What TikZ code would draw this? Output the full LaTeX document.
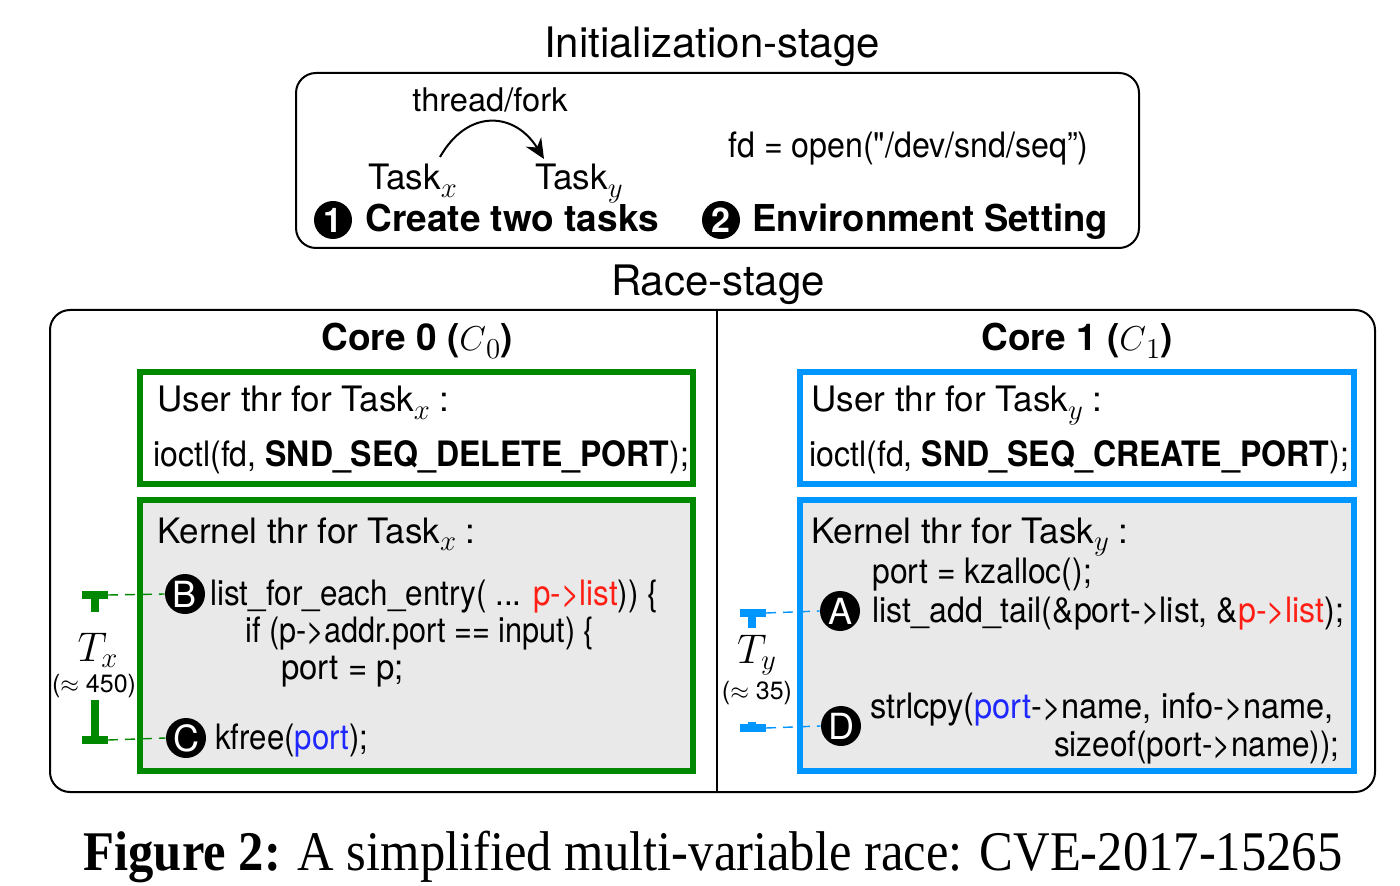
\documentclass[tikz,border=0pt]{standalone}
\usepackage{graphicx}
\usepackage{fontspec}
\setmainfont{TeX Gyre Heros}
\newfontfamily\capfont{Liberation Serif}
\usetikzlibrary{arrows.meta}
\definecolor{mygreen}{RGB}{0,136,0}
\definecolor{myblue}{RGB}{0,150,255}
\definecolor{myred}{RGB}{255,30,20}
\definecolor{mytxtblue}{RGB}{30,40,255}
\definecolor{kgray}{RGB}{233,233,233}
\newcommand{\hsq}[2]{\scalebox{#1}[1]{#2}}
\newcommand{\tsub}[1]{\raisebox{-0.4ex}{\fontsize{14}{14}\selectfont$#1$}}
\begin{document}
\begin{tikzpicture}[x=0.5pt,y=-0.5pt,
  txt/.style={inner sep=0pt, anchor=base west, font=\fontsize{17.5}{20}\selectfont},
  title/.style={inner sep=0pt, anchor=base, font=\fontsize{21}{24}\selectfont},
  hdr/.style={inner sep=0pt, anchor=base, font=\fontsize{18.5}{22}\selectfont\bfseries},
  stepttl/.style={inner sep=0pt, anchor=base west, font=\fontsize{18.5}{22}\selectfont\bfseries},
  frame/.style={draw=black, line width=1pt, rounded corners=10pt},
  gbox/.style={draw=mygreen, line width=3pt},
  bbox/.style={draw=myblue, line width=3pt},
  numcirc/.style={circle, fill=black, text=white, inner sep=0pt, minimum size=19pt, font=\fontsize{17}{17}\selectfont\bfseries},
  circ/.style={circle, fill=black, text=white, inner sep=0pt, minimum size=20pt, font=\fontsize{18}{18}\selectfont},
  gbar/.style={draw=mygreen, line width=4pt},
  bbar/.style={draw=myblue, line width=4pt},
  gdash/.style={draw=mygreen, line width=0.7pt, dash pattern=on 5pt off 3.5pt},
  bdash/.style={draw=myblue, line width=0.7pt, dash pattern=on 5pt off 3.5pt},
  tlabel/.style={inner sep=0pt, font=\fontsize{22}{24}\selectfont},
  tval/.style={inner sep=0pt, font=\fontsize{12.5}{15}\selectfont},
]
\useasboundingbox[fill=white] (0,0) rectangle (1400,886);

% ---------- Initialization stage ----------
\node[title] (inittitle) at (712,58) {Initialization-stage};
\draw[frame] (296,73) rectangle (1139,248);
\node[txt, font=\fontsize{16.3}{18}\selectfont] (fork) at (412,112) {thread/fork};
\node[txt] (taskx) at (368,190) {Task\tsub{x}};
\node[txt] (tasky) at (535,190) {Task\tsub{y}};
\coordinate (forkA) at (440,157);
\coordinate (forkB) at (544,159);
\draw[line width=1pt, -{Stealth[length=10pt,width=9pt]}] (forkA) .. controls (468,108) and (515,112) .. (forkB);
\node[txt] (fdopen) at (728,158) {\hsq{0.918}{fd = open(\textquotedbl/dev/snd/seq”)}};
\node[numcirc] (one) at (333,220) {1};
\node[stepttl] (create) at (365,232) {Create two tasks};
\node[numcirc] (two) at (721,220) {2};
\node[stepttl] (env) at (752,232) {\hsq{0.985}{Environment Setting}};

% ---------- Race stage ----------
\node[title] (racetitle) at (718,296) {Race-stage};
\draw[frame] (50,310) rectangle (1375,792);
\draw[line width=1pt] (717,310) -- (717,792);
\node[hdr] (core0) at (417,351) {Core 0 ($C$\tsub{0})};
\node[hdr] (core1) at (1077,351) {Core 1 ($C$\tsub{1})};

% left boxes
\draw[gbox] (140,372) rectangle (693,484);
\node[txt] (ux) at (157,412) {User thr for Task\tsub{x} :};
\node[txt] (ioctlx) at (153,467) {\hsq{0.915}{ioctl(fd, \textbf{SND\_SEQ\_DELETE\_PORT});}};
\draw[gbox, fill=kgray] (140,500) rectangle (693,771);
\node[txt] (kx) at (157,543) {Kernel thr for Task\tsub{x} :};
\node[circ] (B) at (185,594) {B};
\node[txt] (lfe) at (210,605) {\hsq{0.898}{list\_for\_each\_entry( ... \textcolor{myred}{p->list})) \{}};
\node[txt] (ifl) at (245,642) {\hsq{0.875}{if (p->addr.port == input) \{}};
\node[txt] (portp) at (281,679) {\hsq{0.94}{port = p;}};
\node[circ] (C) at (186,738) {C};
\node[txt] (kfree) at (215,749) {\hsq{0.89}{kfree(\textcolor{mytxtblue}{port});}};

% left timing bracket
\draw[gbar] (82,595) -- (108,595);
\draw[gbar] (95,595) -- (95,612);
\draw[gbar] (82,740) -- (108,740);
\draw[gbar] (95,740) -- (95,700);
\coordinate (gtop) at (108,595);
\coordinate (gbot) at (108,740);
\draw[gdash] (gtop) -- (B.west);
\draw[gdash] (gbot) -- (C.west);
\node[tlabel] (Tx) at (98,650) {$T_x$};
\node[tval] (Txv) at (94,686) {($\approx$ 450)};

% right boxes
\draw[bbox] (800,372) rectangle (1354,484);
\node[txt] (uy) at (811,412) {User thr for Task\tsub{y} :};
\node[txt] (ioctly) at (809,467) {\hsq{0.917}{ioctl(fd, \textbf{SND\_SEQ\_CREATE\_PORT});}};
\draw[bbox, fill=kgray] (800,500) rectangle (1354,771);
\node[txt] (ky) at (811,543) {Kernel thr for Task\tsub{y} :};
\node[txt] (kz) at (872,583) {\hsq{0.91}{port = kzalloc();}};
\node[circ] (A) at (840,611) {A};
\node[txt] (lat) at (872,622) {\hsq{0.918}{list\_add\_tail(\&port->list, \&\textcolor{myred}{p->list});}};
\node[circ] (D) at (841,726) {D};
\node[txt] (scp) at (870,718) {\hsq{0.93}{strlcpy(\textcolor{mytxtblue}{port}->name, info->name,}};
\node[txt, anchor=base east] (szo) at (1340,756) {\hsq{0.9}{sizeof(port->name));}};

% right timing bracket
\draw[bbar] (740,613) -- (766,613);
\draw[bbar] (752,613) -- (752,628);
\draw[bbar] (740,728) -- (766,728);
\draw[bbar] (752,728) -- (752,722);
\coordinate (btop) at (766,613);
\coordinate (bbot) at (766,728);
\draw[bdash] (btop) -- (A.west);
\draw[bdash] (bbot) -- (D.west);
\node[tlabel] (Ty) at (757,655) {$T_y$};
\node[tval] (Tyv) at (757,693) {($\approx$ 35)};

% caption
\node[inner sep=0pt, anchor=base, font=\capfont\fontsize{28}{30}\selectfont] (cap) at (713,870) {\hsq{0.904}{\textbf{Figure 2:} A simplified multi-variable race: CVE-2017-15265}};
\end{tikzpicture}
\end{document}
